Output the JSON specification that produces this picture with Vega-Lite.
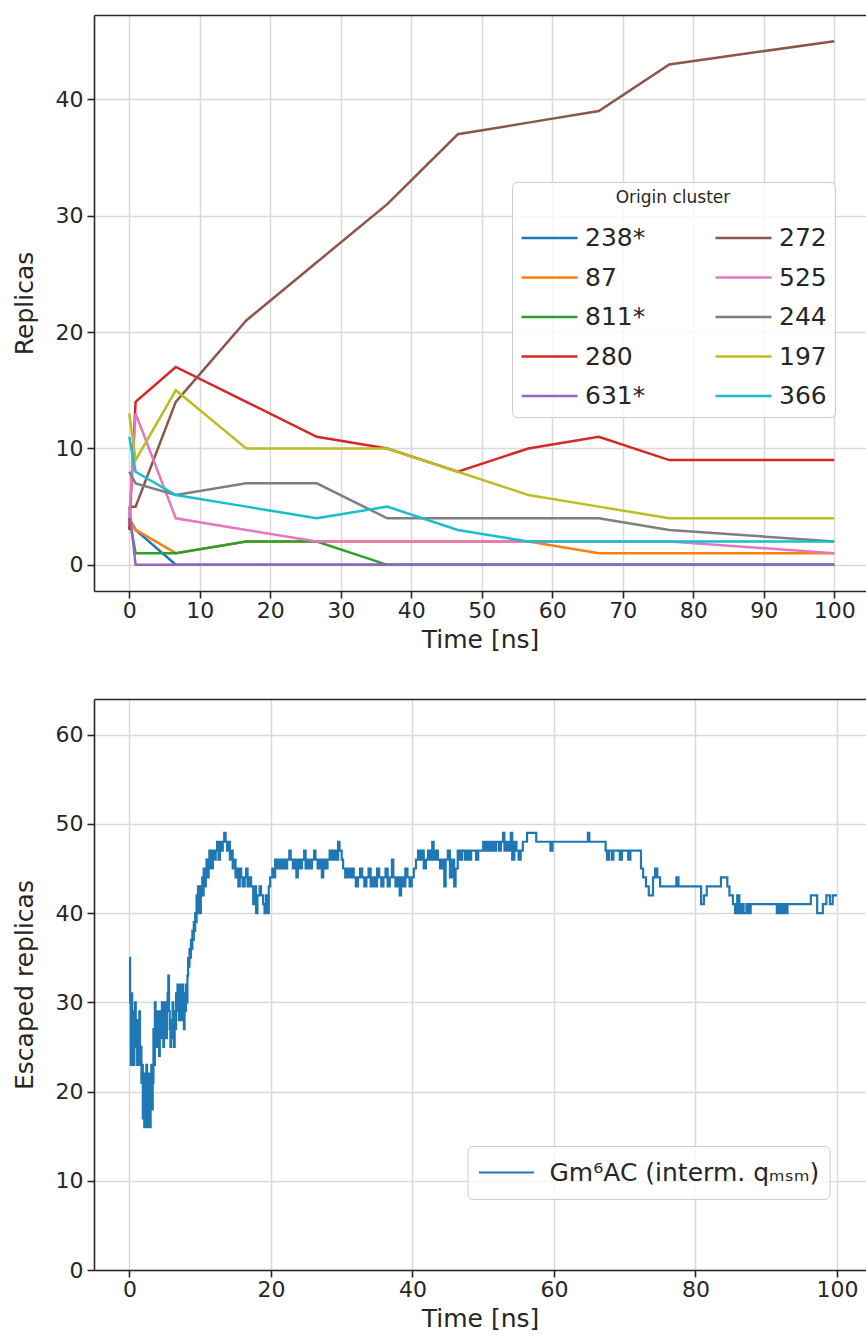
{
  "$schema": "https://vega.github.io/schema/vega-lite/v6.json",
  "background": "white",
  "padding": {"left": 12, "top": 15, "right": 0, "bottom": 0},
  "config": {
    "font": "DejaVu Sans",
    "view": {"stroke": null},
    "axis": {
      "labelFont": "DejaVu Sans", "labelFontSize": 22, "labelColor": "#262626",
      "titleFont": "DejaVu Sans", "titleFontSize": 25, "titleFontWeight": "normal", "titleColor": "#262626",
      "domainColor": "#262626", "domainWidth": 1.6, "tickColor": "#262626", "tickWidth": 1.6, "tickSize": 7,
      "gridColor": "#d9d9d9", "gridWidth": 1.5, "labelPadding": 4
    },
    "axisX": {"labelPadding": 2, "titlePadding": 6},
    "axisY": {"titlePadding": 17.5},
    "legend": {"labelFont": "DejaVu Sans", "titleFont": "DejaVu Sans", "labelColor": "#262626", "titleColor": "#262626"}
  },
  "spacing": 47,
  "resolve": {"scale": {"x": "independent", "y": "independent", "color": "independent"}, "legend": {"color": "independent"}},
  "datasets": {
    "clusters": [
      {"cluster": "238*", "t": 0, "v": 4}, {"cluster": "238*", "t": 0.9, "v": 3}, {"cluster": "238*", "t": 6.6, "v": 0}, {"cluster": "238*", "t": 16.6, "v": 0}, {"cluster": "238*", "t": 26.6, "v": 0}, {"cluster": "238*", "t": 36.6, "v": 0}, {"cluster": "238*", "t": 46.6, "v": 0}, {"cluster": "238*", "t": 56.6, "v": 0}, {"cluster": "238*", "t": 66.6, "v": 0}, {"cluster": "238*", "t": 76.6, "v": 0}, {"cluster": "238*", "t": 100, "v": 0},
      {"cluster": "87", "t": 0, "v": 4}, {"cluster": "87", "t": 0.9, "v": 3}, {"cluster": "87", "t": 6.6, "v": 1}, {"cluster": "87", "t": 16.6, "v": 2}, {"cluster": "87", "t": 26.6, "v": 2}, {"cluster": "87", "t": 36.6, "v": 2}, {"cluster": "87", "t": 46.6, "v": 2}, {"cluster": "87", "t": 56.6, "v": 2}, {"cluster": "87", "t": 66.6, "v": 1}, {"cluster": "87", "t": 76.6, "v": 1}, {"cluster": "87", "t": 100, "v": 1},
      {"cluster": "811*", "t": 0, "v": 4}, {"cluster": "811*", "t": 0.9, "v": 1}, {"cluster": "811*", "t": 6.6, "v": 1}, {"cluster": "811*", "t": 16.6, "v": 2}, {"cluster": "811*", "t": 26.6, "v": 2}, {"cluster": "811*", "t": 36.6, "v": 0}, {"cluster": "811*", "t": 46.6, "v": 0}, {"cluster": "811*", "t": 56.6, "v": 0}, {"cluster": "811*", "t": 66.6, "v": 0}, {"cluster": "811*", "t": 76.6, "v": 0}, {"cluster": "811*", "t": 100, "v": 0},
      {"cluster": "280", "t": 0, "v": 3}, {"cluster": "280", "t": 0.9, "v": 14}, {"cluster": "280", "t": 6.6, "v": 17}, {"cluster": "280", "t": 16.6, "v": 14}, {"cluster": "280", "t": 26.6, "v": 11}, {"cluster": "280", "t": 36.6, "v": 10}, {"cluster": "280", "t": 46.6, "v": 8}, {"cluster": "280", "t": 56.6, "v": 10}, {"cluster": "280", "t": 66.6, "v": 11}, {"cluster": "280", "t": 76.6, "v": 9}, {"cluster": "280", "t": 100, "v": 9},
      {"cluster": "631*", "t": 0, "v": 5}, {"cluster": "631*", "t": 0.9, "v": 0}, {"cluster": "631*", "t": 6.6, "v": 0}, {"cluster": "631*", "t": 16.6, "v": 0}, {"cluster": "631*", "t": 26.6, "v": 0}, {"cluster": "631*", "t": 36.6, "v": 0}, {"cluster": "631*", "t": 46.6, "v": 0}, {"cluster": "631*", "t": 56.6, "v": 0}, {"cluster": "631*", "t": 66.6, "v": 0}, {"cluster": "631*", "t": 76.6, "v": 0}, {"cluster": "631*", "t": 100, "v": 0},
      {"cluster": "272", "t": 0, "v": 5}, {"cluster": "272", "t": 0.9, "v": 5}, {"cluster": "272", "t": 6.6, "v": 14}, {"cluster": "272", "t": 16.6, "v": 21}, {"cluster": "272", "t": 26.6, "v": 26}, {"cluster": "272", "t": 36.6, "v": 31}, {"cluster": "272", "t": 46.6, "v": 37}, {"cluster": "272", "t": 56.6, "v": 38}, {"cluster": "272", "t": 66.6, "v": 39}, {"cluster": "272", "t": 76.6, "v": 43}, {"cluster": "272", "t": 100, "v": 45},
      {"cluster": "525", "t": 0, "v": 4}, {"cluster": "525", "t": 0.9, "v": 13}, {"cluster": "525", "t": 6.6, "v": 4}, {"cluster": "525", "t": 16.6, "v": 3}, {"cluster": "525", "t": 26.6, "v": 2}, {"cluster": "525", "t": 36.6, "v": 2}, {"cluster": "525", "t": 46.6, "v": 2}, {"cluster": "525", "t": 56.6, "v": 2}, {"cluster": "525", "t": 66.6, "v": 2}, {"cluster": "525", "t": 76.6, "v": 2}, {"cluster": "525", "t": 100, "v": 1},
      {"cluster": "244", "t": 0, "v": 8}, {"cluster": "244", "t": 0.9, "v": 7}, {"cluster": "244", "t": 6.6, "v": 6}, {"cluster": "244", "t": 16.6, "v": 7}, {"cluster": "244", "t": 26.6, "v": 7}, {"cluster": "244", "t": 36.6, "v": 4}, {"cluster": "244", "t": 46.6, "v": 4}, {"cluster": "244", "t": 56.6, "v": 4}, {"cluster": "244", "t": 66.6, "v": 4}, {"cluster": "244", "t": 76.6, "v": 3}, {"cluster": "244", "t": 100, "v": 2},
      {"cluster": "197", "t": 0, "v": 13}, {"cluster": "197", "t": 0.9, "v": 9}, {"cluster": "197", "t": 6.6, "v": 15}, {"cluster": "197", "t": 16.6, "v": 10}, {"cluster": "197", "t": 26.6, "v": 10}, {"cluster": "197", "t": 36.6, "v": 10}, {"cluster": "197", "t": 46.6, "v": 8}, {"cluster": "197", "t": 56.6, "v": 6}, {"cluster": "197", "t": 66.6, "v": 5}, {"cluster": "197", "t": 76.6, "v": 4}, {"cluster": "197", "t": 100, "v": 4},
      {"cluster": "366", "t": 0, "v": 11}, {"cluster": "366", "t": 0.9, "v": 8}, {"cluster": "366", "t": 6.6, "v": 6}, {"cluster": "366", "t": 16.6, "v": 5}, {"cluster": "366", "t": 26.6, "v": 4}, {"cluster": "366", "t": 36.6, "v": 5}, {"cluster": "366", "t": 46.6, "v": 3}, {"cluster": "366", "t": 56.6, "v": 2}, {"cluster": "366", "t": 66.6, "v": 2}, {"cluster": "366", "t": 76.6, "v": 2}, {"cluster": "366", "t": 100, "v": 2}
    ],
    "escaped": [
      {"t":0,"v":35},{"t":0.1,"v":30},{"t":0.2,"v":23},{"t":0.3,"v":31},{"t":0.4,"v":24},{"t":0.5,"v":29},{"t":0.6,"v":23},{"t":0.7,"v":27},{"t":0.8,"v":30},{"t":0.9,"v":25},
      {"t":1.0,"v":28},{"t":1.1,"v":23},{"t":1.2,"v":27},{"t":1.3,"v":24},{"t":1.4,"v":29},{"t":1.5,"v":23},{"t":1.6,"v":25},{"t":1.7,"v":21},{"t":1.8,"v":23},{"t":1.9,"v":17},
      {"t":2.0,"v":22},{"t":2.1,"v":16},{"t":2.2,"v":20},{"t":2.3,"v":17},{"t":2.4,"v":23},{"t":2.5,"v":16},{"t":2.6,"v":21},{"t":2.7,"v":18},{"t":2.8,"v":22},{"t":2.9,"v":16},
      {"t":3.0,"v":19},{"t":3.1,"v":23},{"t":3.2,"v":18},{"t":3.3,"v":21},{"t":3.4,"v":27},{"t":3.5,"v":23},{"t":3.6,"v":30},{"t":3.7,"v":26},{"t":3.8,"v":28},{"t":3.9,"v":25},
      {"t":4.0,"v":29},{"t":4.1,"v":27},{"t":4.2,"v":24},{"t":4.3,"v":28},{"t":4.4,"v":29},{"t":4.5,"v":26},{"t":4.6,"v":30},{"t":4.7,"v":28},{"t":4.8,"v":25},{"t":4.9,"v":27},
      {"t":5.0,"v":30},{"t":5.1,"v":28},{"t":5.2,"v":26},{"t":5.3,"v":29},{"t":5.4,"v":31},{"t":5.5,"v":33},{"t":5.6,"v":29},{"t":5.7,"v":27},{"t":5.8,"v":25},{"t":5.9,"v":28},
      {"t":6.0,"v":26},{"t":6.1,"v":30},{"t":6.2,"v":27},{"t":6.3,"v":25},{"t":6.4,"v":29},{"t":6.5,"v":27},{"t":6.6,"v":31},{"t":6.7,"v":29},{"t":6.8,"v":32},{"t":6.9,"v":30},
      {"t":7.0,"v":28},{"t":7.1,"v":32},{"t":7.2,"v":29},{"t":7.3,"v":31},{"t":7.4,"v":28},{"t":7.5,"v":32},{"t":7.6,"v":30},{"t":7.7,"v":27},{"t":7.8,"v":31},{"t":7.9,"v":29},
      {"t":8.0,"v":32},{"t":8.1,"v":30},{"t":8.2,"v":33},{"t":8.3,"v":35},{"t":8.4,"v":34},{"t":8.5,"v":36},{"t":8.6,"v":35},{"t":8.7,"v":37},{"t":8.8,"v":36},{"t":8.9,"v":38},
      {"t":9.0,"v":37},{"t":9.1,"v":39},{"t":9.2,"v":38},{"t":9.3,"v":40},{"t":9.4,"v":39},{"t":9.5,"v":42},{"t":9.6,"v":40},{"t":9.7,"v":43},{"t":9.8,"v":41},{"t":9.9,"v":42},
      {"t":10.0,"v":40},{"t":10.1,"v":43},{"t":10.2,"v":42},{"t":10.3,"v":44},{"t":10.4,"v":42},{"t":10.5,"v":45},{"t":10.6,"v":43},{"t":10.8,"v":44},{"t":10.9,"v":46},{"t":11.0,"v":44},
      {"t":11.2,"v":45},{"t":11.3,"v":47},{"t":11.5,"v":46},{"t":11.6,"v":45},{"t":11.8,"v":47},{"t":12.0,"v":46},{"t":12.2,"v":47},{"t":12.4,"v":48},{"t":12.6,"v":46},{"t":12.8,"v":48},
      {"t":13.0,"v":47},{"t":13.2,"v":48},{"t":13.4,"v":49},{"t":13.6,"v":48},{"t":13.8,"v":47},{"t":14.0,"v":48},
      {"t":14.2,"v":46},{"t":14.4,"v":47},{"t":14.6,"v":45},{"t":14.8,"v":46},{"t":15.0,"v":44},{"t":15.2,"v":45},{"t":15.4,"v":43},{"t":15.6,"v":45},{"t":15.8,"v":44},{"t":16.0,"v":43},
      {"t":16.3,"v":44},{"t":16.5,"v":45},{"t":16.7,"v":43},{"t":16.9,"v":44},{"t":17.2,"v":43},{"t":17.5,"v":41},{"t":17.7,"v":43},{"t":17.9,"v":40},{"t":18.1,"v":42},{"t":18.4,"v":43},
      {"t":18.6,"v":42},{"t":18.9,"v":41},{"t":19.1,"v":40},{"t":19.3,"v":42},{"t":19.5,"v":40},{"t":19.7,"v":43},{"t":19.9,"v":44},{"t":20.2,"v":45},{"t":20.4,"v":44},{"t":20.6,"v":46},
      {"t":20.8,"v":45},{"t":21.1,"v":46},{"t":21.4,"v":45},{"t":21.7,"v":46},{"t":22.0,"v":45},{"t":22.3,"v":46},{"t":22.6,"v":47},{"t":22.8,"v":46},{"t":23.1,"v":45},{"t":23.3,"v":46},
      {"t":23.6,"v":44},{"t":23.8,"v":46},{"t":24.1,"v":45},{"t":24.4,"v":46},{"t":24.7,"v":47},{"t":24.9,"v":45},{"t":25.2,"v":46},{"t":25.5,"v":45},{"t":25.8,"v":46},{"t":26.1,"v":47},
      {"t":26.3,"v":46},{"t":26.6,"v":45},{"t":26.9,"v":46},{"t":27.2,"v":44},{"t":27.4,"v":46},{"t":27.7,"v":45},{"t":28.0,"v":46},{"t":28.3,"v":47},{"t":28.6,"v":46},{"t":28.9,"v":47},
      {"t":29.2,"v":46},{"t":29.5,"v":48},{"t":29.7,"v":47},{"t":30.0,"v":46},{"t":30.2,"v":45},{"t":30.5,"v":44},{"t":30.8,"v":45},{"t":31.1,"v":44},{"t":31.4,"v":45},{"t":31.7,"v":44},
      {"t":32.0,"v":43},{"t":32.3,"v":44},{"t":32.6,"v":45},{"t":32.9,"v":44},{"t":33.2,"v":43},{"t":33.5,"v":44},{"t":33.8,"v":45},{"t":34.1,"v":43},{"t":34.4,"v":44},{"t":34.7,"v":43},
      {"t":35.0,"v":45},{"t":35.3,"v":44},{"t":35.6,"v":43},{"t":35.9,"v":44},{"t":36.2,"v":45},{"t":36.5,"v":43},{"t":36.8,"v":44},{"t":37.1,"v":46},{"t":37.3,"v":44},{"t":37.6,"v":43},
      {"t":37.9,"v":44},{"t":38.2,"v":42},{"t":38.4,"v":44},{"t":38.7,"v":43},{"t":39.0,"v":45},{"t":39.3,"v":44},{"t":39.6,"v":43},{"t":39.9,"v":44},{"t":40.2,"v":45},{"t":40.5,"v":46},
      {"t":40.8,"v":47},{"t":41.0,"v":46},{"t":41.3,"v":47},{"t":41.6,"v":45},{"t":41.9,"v":46},{"t":42.2,"v":47},{"t":42.5,"v":46},{"t":42.8,"v":48},{"t":43.0,"v":46},{"t":43.3,"v":47},
      {"t":43.6,"v":46},{"t":43.9,"v":45},{"t":44.2,"v":46},{"t":44.5,"v":43},{"t":44.7,"v":46},{"t":45.0,"v":47},{"t":45.3,"v":44},{"t":45.6,"v":46},{"t":45.9,"v":43},{"t":46.1,"v":45},
      {"t":46.4,"v":47},{"t":46.7,"v":46},{"t":47.0,"v":47},{"t":47.4,"v":46},{"t":47.7,"v":47},{"t":48.0,"v":46},{"t":48.3,"v":47},{"t":49.0,"v":46},{"t":49.3,"v":47},{"t":50.0,"v":48},
      {"t":50.3,"v":47},{"t":50.6,"v":48},{"t":50.9,"v":47},{"t":51.2,"v":48},{"t":51.5,"v":47},{"t":51.8,"v":48},{"t":52.2,"v":47},{"t":52.5,"v":48},{"t":52.8,"v":49},{"t":53.0,"v":47},
      {"t":53.3,"v":48},{"t":53.6,"v":47},{"t":53.9,"v":49},{"t":54.1,"v":46},{"t":54.4,"v":48},{"t":54.7,"v":47},{"t":55.0,"v":46},{"t":55.3,"v":47},{"t":55.6,"v":48},{"t":56.2,"v":49},
      {"t":57.5,"v":48},{"t":59.5,"v":47},{"t":59.8,"v":48},{"t":64.8,"v":49},{"t":65.0,"v":48},{"t":67.3,"v":47},{"t":67.5,"v":46},{"t":67.8,"v":47},{"t":68.2,"v":46},{"t":68.4,"v":47},
      {"t":69.3,"v":46},{"t":69.6,"v":47},{"t":70.5,"v":46},{"t":70.8,"v":47},{"t":72.3,"v":45},{"t":72.6,"v":44},{"t":73.0,"v":43},{"t":73.4,"v":42},{"t":74.0,"v":44},{"t":74.3,"v":45},
      {"t":74.6,"v":44},{"t":75.0,"v":43},{"t":77.3,"v":44},{"t":77.6,"v":43},{"t":80.8,"v":41},{"t":81.2,"v":42},{"t":81.6,"v":43},{"t":83.6,"v":44},{"t":84.5,"v":43},{"t":84.8,"v":42},
      {"t":85.3,"v":41},{"t":85.6,"v":40},{"t":85.9,"v":42},{"t":86.2,"v":40},{"t":86.5,"v":41},{"t":86.8,"v":40},{"t":87.2,"v":41},{"t":87.5,"v":40},{"t":87.8,"v":41},{"t":91.5,"v":40},
      {"t":91.8,"v":41},{"t":92.1,"v":40},{"t":92.4,"v":41},{"t":92.7,"v":40},{"t":93.0,"v":41},{"t":96.3,"v":42},{"t":97.2,"v":40},{"t":98.0,"v":41},{"t":98.5,"v":42},{"t":99.0,"v":41},
      {"t":99.4,"v":42},{"t":100.0,"v":42}
    ]
  },
  "vconcat": [
    {
      "width": 772,
      "height": 576,
      "data": {"name": "clusters"},
      "resolve": {"axis": {"x": "independent"}},
      "layer": [
        {
          "mark": {"type": "line", "strokeWidth": 2.5},
          "encoding": {
            "x": {"field": "t", "type": "quantitative", "scale": {"domain": [-5, 104.5], "nice": false, "zero": false},
                  "axis": {"values": [0, 10, 20, 30, 40, 50, 60, 70, 80, 90, 100], "title": "Time [ns]"}},
            "y": {"field": "v", "type": "quantitative", "scale": {"domain": [-2.25, 47.25], "nice": false, "zero": false},
                  "axis": {"values": [0, 10, 20, 30, 40], "title": "Replicas"}},
            "color": {
              "field": "cluster", "type": "nominal",
              "scale": {
                "domain": ["238*", "87", "811*", "280", "631*", "272", "525", "244", "197", "366"],
                "range": ["#1f77b4", "#ff7f0e", "#2ca02c", "#d62728", "#9467bd", "#8c564b", "#e377c2", "#7f7f7f", "#bcbd22", "#17becf"]
              },
              "legend": {
                "orient": "none", "legendX": 418, "legendY": 167, "columns": 2, "gridAlign": "all",
                "title": "Origin cluster", "titleFontSize": 17, "titleFontWeight": "normal", "titleAnchor": "middle", "titlePadding": 18,
                "labelFontSize": 25, "labelOffset": 6, "labelLimit": 300,
                "symbolType": "stroke", "symbolSize": 3136, "symbolStrokeWidth": 2.5,
                "clipHeight": 26, "rowPadding": 13.5, "columnPadding": 68, "padding": 8,
                "fillColor": "rgba(255,255,255,0.8)", "strokeColor": "#cccccc", "cornerRadius": 5
              }
            }
          }
        },
        {
          "mark": {"type": "line", "opacity": 0},
          "encoding": {
            "x": {"field": "t", "type": "quantitative", "scale": {"domain": [-5, 104.5], "nice": false, "zero": false},
                  "axis": {"orient": "top", "labels": false, "ticks": false, "grid": false, "title": null}},
            "y": {"field": "v", "type": "quantitative"}
          }
        }
      ]
    },
    {
      "width": 772,
      "height": 571,
      "data": {"name": "escaped"},
      "resolve": {"axis": {"x": "independent"}},
      "layer": [
        {
          "mark": {"type": "line", "interpolate": "step-after", "strokeWidth": 2.2},
          "encoding": {
            "x": {"field": "t", "type": "quantitative", "scale": {"domain": [-5, 104.1], "nice": false, "zero": false},
                  "axis": {"values": [0, 20, 40, 60, 80, 100], "title": "Time [ns]"}},
            "y": {"field": "v", "type": "quantitative", "scale": {"domain": [0, 64], "nice": false, "zero": false},
                  "axis": {"values": [0, 10, 20, 30, 40, 50, 60], "title": "Escaped replicas"}},
            "color": {
              "datum": "Gm⁶AC (interm. qₘₛₘ)", "type": "nominal",
              "scale": {"range": ["#1f77b4"]},
              "legend": {
                "orient": "none", "legendX": 373.5, "legendY": 447, "title": null,
                "labelFontSize": 25, "labelOffset": 14, "labelLimit": 400,
                "symbolType": "stroke", "symbolSize": 3025, "symbolStrokeWidth": 2.2,
                "clipHeight": 33, "padding": 10,
                "fillColor": "rgba(255,255,255,0.8)", "strokeColor": "#cccccc", "cornerRadius": 5
              }
            }
          }
        },
        {
          "mark": {"type": "line", "opacity": 0},
          "encoding": {
            "x": {"field": "t", "type": "quantitative", "scale": {"domain": [-5, 104.1], "nice": false, "zero": false},
                  "axis": {"orient": "top", "labels": false, "ticks": false, "grid": false, "title": null}},
            "y": {"field": "v", "type": "quantitative"}
          }
        }
      ]
    }
  ]
}
